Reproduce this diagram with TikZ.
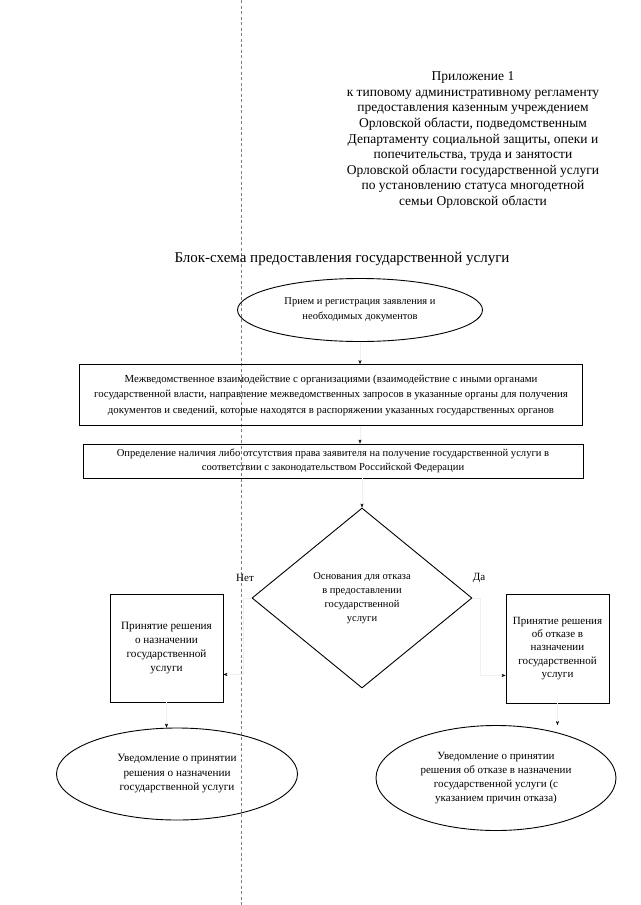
\documentclass[tikz,border=0pt]{standalone}
\usepackage{fontspec}
\setmainfont{Liberation Serif}
\usetikzlibrary{shapes.geometric,arrows.meta}
\begin{document}
\begin{tikzpicture}[x=1pt, y=-1pt, every node/.style={font=\fontsize{10.5}{14}\selectfont, align=center}]
\tikzset{oval/.style={ellipse, draw, line width=0.9pt, inner sep=0pt},
  card/.style={rectangle, draw, line width=0.9pt, inner sep=0pt},
  fork/.style={diamond, draw, line width=0.9pt, inner sep=0pt},
  link/.style={draw=black!6, very thin, -{Stealth[black, length=4pt, width=3pt]}},
  fold/.style={draw=black!50, very thin, dash pattern=on 3pt off 2.5pt}}
\useasboundingbox (0,0) rectangle (640,905);
% fold of the scanned sheet
\draw[fold] (241,0) -- (241,905);
% annex heading and title
\node[font=\fontsize{13.5}{15.6}\selectfont] (annex) at (473,140) {Приложение 1\\к типовому административному регламенту\\предоставления казенным учреждением\\Орловской области, подведомственным\\Департаменту социальной защиты, опеки и\\попечительства, труда и занятости\\Орловской области государственной услуги\\по установлению статуса многодетной\\семьи Орловской области};
\node[font=\fontsize{15}{18}\selectfont] (title) at (342,259) {Блок-схема предоставления государственной услуги};
% upper chain
\node[oval, minimum width=245pt, minimum height=63pt, font=\fontsize{10.5}{15}\selectfont] (intake) at (360,310) {Прием и регистрация заявления и\\необходимых документов};
\node[card, minimum width=503pt, minimum height=61pt, font=\fontsize{10.8}{15.5}\selectfont] (query) at (331,395) {Межведомственное взаимодействие с организациями (взаимодействие с иными органами\\государственной власти, направление межведомственных запросов в указанные органы для получения\\документов и сведений, которые находятся в распоряжении указанных государственных органов};
\node[card, minimum width=500pt, minimum height=34pt, font=\fontsize{10.6}{14}\selectfont] (check) at (333,461) {Определение наличия либо отсутствия права заявителя на получение государственной услуги в\\соответствии с законодательством Российской Федерации};
\node[fork, minimum width=220pt, minimum height=180pt, font=\fontsize{10.5}{13.8}\selectfont] (basis) at (362,598) {Основания для отказа\\в предоставлении\\государственной\\услуги};
\node[font=\fontsize{11}{13}\selectfont] (no) at (245,578) {Нет};
\node[font=\fontsize{11}{13}\selectfont] (yes) at (479,578) {Да};
% decisions
\node[card, minimum width=113pt, minimum height=108pt, font=\fontsize{11.2}{14}\selectfont] (grant) at (166.5,648) {Принятие решения\\о назначении\\государственной\\услуги};
\node[card, minimum width=103pt, minimum height=109pt, font=\fontsize{11}{13.4}\selectfont] (refuse) at (557.5,648.5) {Принятие решения\\об отказе в\\назначении\\государственной\\услуги};
% notices
\node[oval, minimum width=241pt, minimum height=92pt, font=\fontsize{11.2}{14.5}\selectfont] (grantnote) at (177,774) {Уведомление о принятии\\решения о назначении\\государственной услуги};
\node[oval, minimum width=240pt, minimum height=105pt, font=\fontsize{11}{14}\selectfont] (refusenote) at (496,778) {Уведомление о принятии\\решения об отказе в назначении\\государственной услуги (с\\указанием причин отказа)};
% connectors
\draw[link] (intake.south) -- (intake.south |- query.north);
\draw[link] (intake |- query.south) -- (intake |- check.north);
\draw[link] (basis |- check.south) -- (basis.north);
\draw[link] (basis.west) -- ++(-8,0) |- ([yshift=28pt]grant.south east);
\draw[link] (basis.east) -- ++(8,0) |- ([yshift=28pt]refuse.south west);
\draw[link] (grant.south) -- (grant.south |- grantnote.north);
\draw[link] (refuse.south) -- (refuse.south |- refusenote.north);
\end{tikzpicture}
\end{document}
